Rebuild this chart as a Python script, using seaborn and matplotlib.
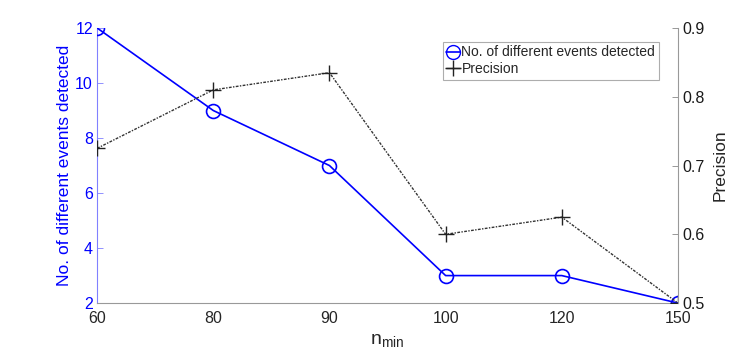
import numpy as np
import pandas as pd
import matplotlib
matplotlib.use('Agg')
import matplotlib.pyplot as plt
import seaborn as sns
from matplotlib.lines import Line2D

n_min = ['60', '80', '90', '100', '120', '150']
events = [12, 9, 7, 3, 3, 2]
precision = [0.725, 0.81, 0.835, 0.6, 0.625, 0.5]

df = pd.DataFrame({'pos': np.arange(len(n_min)), 'n_min': n_min,
                   'events': events, 'precision': precision})

sns.set_style('white')
plt.rcParams['font.family'] = ['Liberation Sans', 'DejaVu Sans']

fig = plt.figure(figsize=(7.47, 3.57), dpi=100)
ax = fig.add_axes([0.130, 0.151, 0.7776, 0.7706])
ax2 = ax.twinx()

blue = '#0000ff'
sns.lineplot(data=df, x='pos', y='events', ax=ax, color=blue, lw=1.2,
             marker='o', markersize=10, markerfacecolor='none',
             markeredgecolor=blue, markeredgewidth=1.2, zorder=3)
sns.lineplot(data=df, x='pos', y='precision', ax=ax2, color='#333333', lw=1.0,
             linestyle=(0, (2, 1, 1, 1)), marker='+', markersize=11,
             markeredgecolor='#222222', markeredgewidth=1.0)

ax.set_xlim(0, len(n_min) - 1)
ax.set_ylim(2, 12)
ax2.set_ylim(0.5, 0.9)
ax.set_xticks(df['pos'])
ax.set_xticklabels(n_min)
ax.set_yticks([2, 4, 6, 8, 10, 12])
ax2.set_yticks([0.5, 0.6, 0.7, 0.8, 0.9])

ax.set_xlabel('$\\mathregular{n_{min}}$', fontsize=14, color='#262626', labelpad=4)
ax.set_ylabel('No. of different events detected', fontsize=12.5, color=blue, labelpad=2)
ax2.set_ylabel('Precision', fontsize=12.5, color='#262626', labelpad=6)

for a in (ax, ax2):
    a.spines['top'].set_visible(False)
    a.tick_params(direction='in', length=4, width=0.6, labelsize=11.5,
                  colors='#888888', pad=3)
ax.tick_params(axis='y', labelcolor=blue, color='#8080ff')
ax.tick_params(axis='x', labelcolor='#262626', pad=6)
ax2.tick_params(axis='y', labelcolor='#1a1a1a')
ax.spines['left'].set_color('#8080ff')
ax.spines['bottom'].set_color('#999999')
ax2.spines['right'].set_color('#999999')
ax2.spines['left'].set_visible(False)
ax2.spines['bottom'].set_visible(False)
ax.spines['right'].set_visible(False)
for s in ('left', 'bottom'):
    ax.spines[s].set_linewidth(0.8)
ax2.spines['right'].set_linewidth(0.8)

handles = [Line2D([], [], color=blue, marker='o', markersize=10, markerfacecolor='none',
                  lw=1.2),
           Line2D([], [], color='#222222', marker='+', markersize=11, lw=1.0)]
leg = ax2.legend(handles, ['No. of different events detected', 'Precision'],
                 loc='upper left', bbox_to_anchor=(0.595, 0.949), fontsize=10,
                 frameon=True, fancybox=False, handlelength=1.0, handletextpad=0.1,
                 borderpad=0.25, labelspacing=0.2, borderaxespad=0)
leg.get_frame().set_edgecolor('#999999')
leg.get_frame().set_linewidth(0.8)

fig.savefig('out.png', dpi=100)
